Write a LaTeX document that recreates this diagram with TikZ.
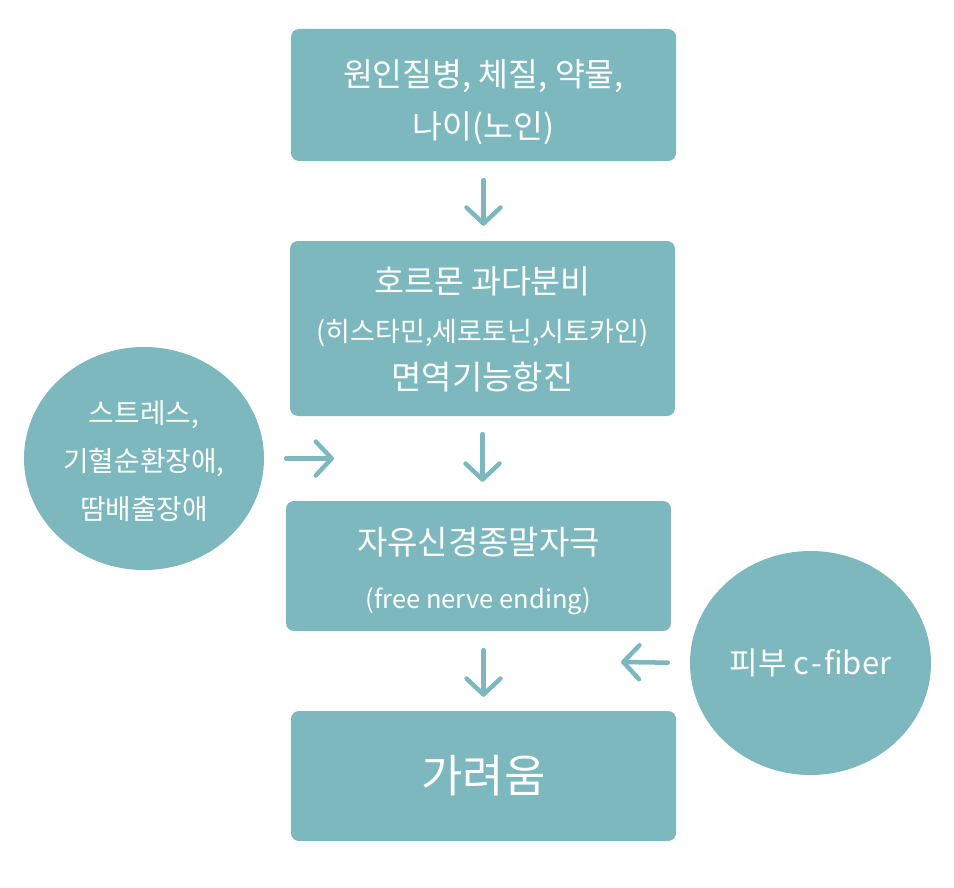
\documentclass[tikz,border=0pt]{standalone}
\usepackage{fontspec}
\setmainfont{Noto Sans CJK KR}
\usetikzlibrary{arrows.meta,shapes.geometric}
\definecolor{teal}{HTML}{7DB8BF}
\newcommand{\dn}[2]{\raisebox{0pt}[\dimexpr\height+#1\relax]{#2}}
\tikzset{
  box/.style={fill=teal, draw=none, rounded corners=8pt, text=white, align=center,
    minimum width=385pt, inner sep=0pt},
  blob/.style={ellipse, fill=teal, draw=none, text=white, align=center, inner sep=0pt},
  arr/.style={draw=teal, line width=4.5pt, line cap=round,
    -{Straight Barb[length=16pt, width=34pt, line width=4.5pt, round]}},
}
\begin{document}
\begin{tikzpicture}[x=1pt,y=-1pt]
\useasboundingbox (0,0) rectangle (954,888);
\node[box, minimum height=132pt, font=\fontsize{32.5}{52}\selectfont] (b1) at (483.5,95)
  {\dn{14pt}{원인질병, 체질, 약물,}\\나이(노인)};
\node[box, minimum height=175pt, font=\fontsize{32.5}{48}\selectfont] (b2) at (482.5,328.5)
  {\dn{2pt}{호르몬 과다분비}\\{\fontsize{27}{48}\selectfont (히스타민,세로토닌,시토카인)}\\{\fontsize{33}{48}\selectfont 면역기능항진}};
\node[box, minimum height=130pt, font=\fontsize{33}{54}\selectfont] (b3) at (478.5,566)
  {\dn{10pt}{자유신경종말자극}\\{\fontsize{25.5}{54}\selectfont (free nerve ending)}};
\node[box, minimum height=130pt, font=\fontsize{45}{48}\selectfont] (b4) at (483.5,776)
  {가려움};
\node[blob, minimum width=240pt, minimum height=223pt, font=\fontsize{27.8}{48}\selectfont] (c1) at (144,458.5)
  {\dn{6pt}{스트레스,}\\기혈순환장애,\\땀배출장애};
\node[blob, minimum width=241pt, minimum height=224pt, font=\fontsize{31}{48}\selectfont] (c2) at (810.5,663)
  {피부 c\hspace{2pt}-\hspace{2pt}fiber};
\coordinate (rt) at (334,458.5);
\coordinate (lt) at (621,662);
\draw[arr, shorten <=19pt, shorten >=15pt] (b1.south) -- (b1.south |- b2.north);
\draw[arr, shorten <=18pt, shorten >=19pt] (b2.south) -- (b2.south |- b3.north);
\draw[arr, shorten <=19pt, shorten >=14pt] (b3.south -| b4.north) -- (b4.north);
\draw[arr, shorten <=22pt] (c1.east) -- (rt);
\draw[arr, shorten <=22pt] (c2.west) -- (lt);
\end{tikzpicture}
\end{document}
